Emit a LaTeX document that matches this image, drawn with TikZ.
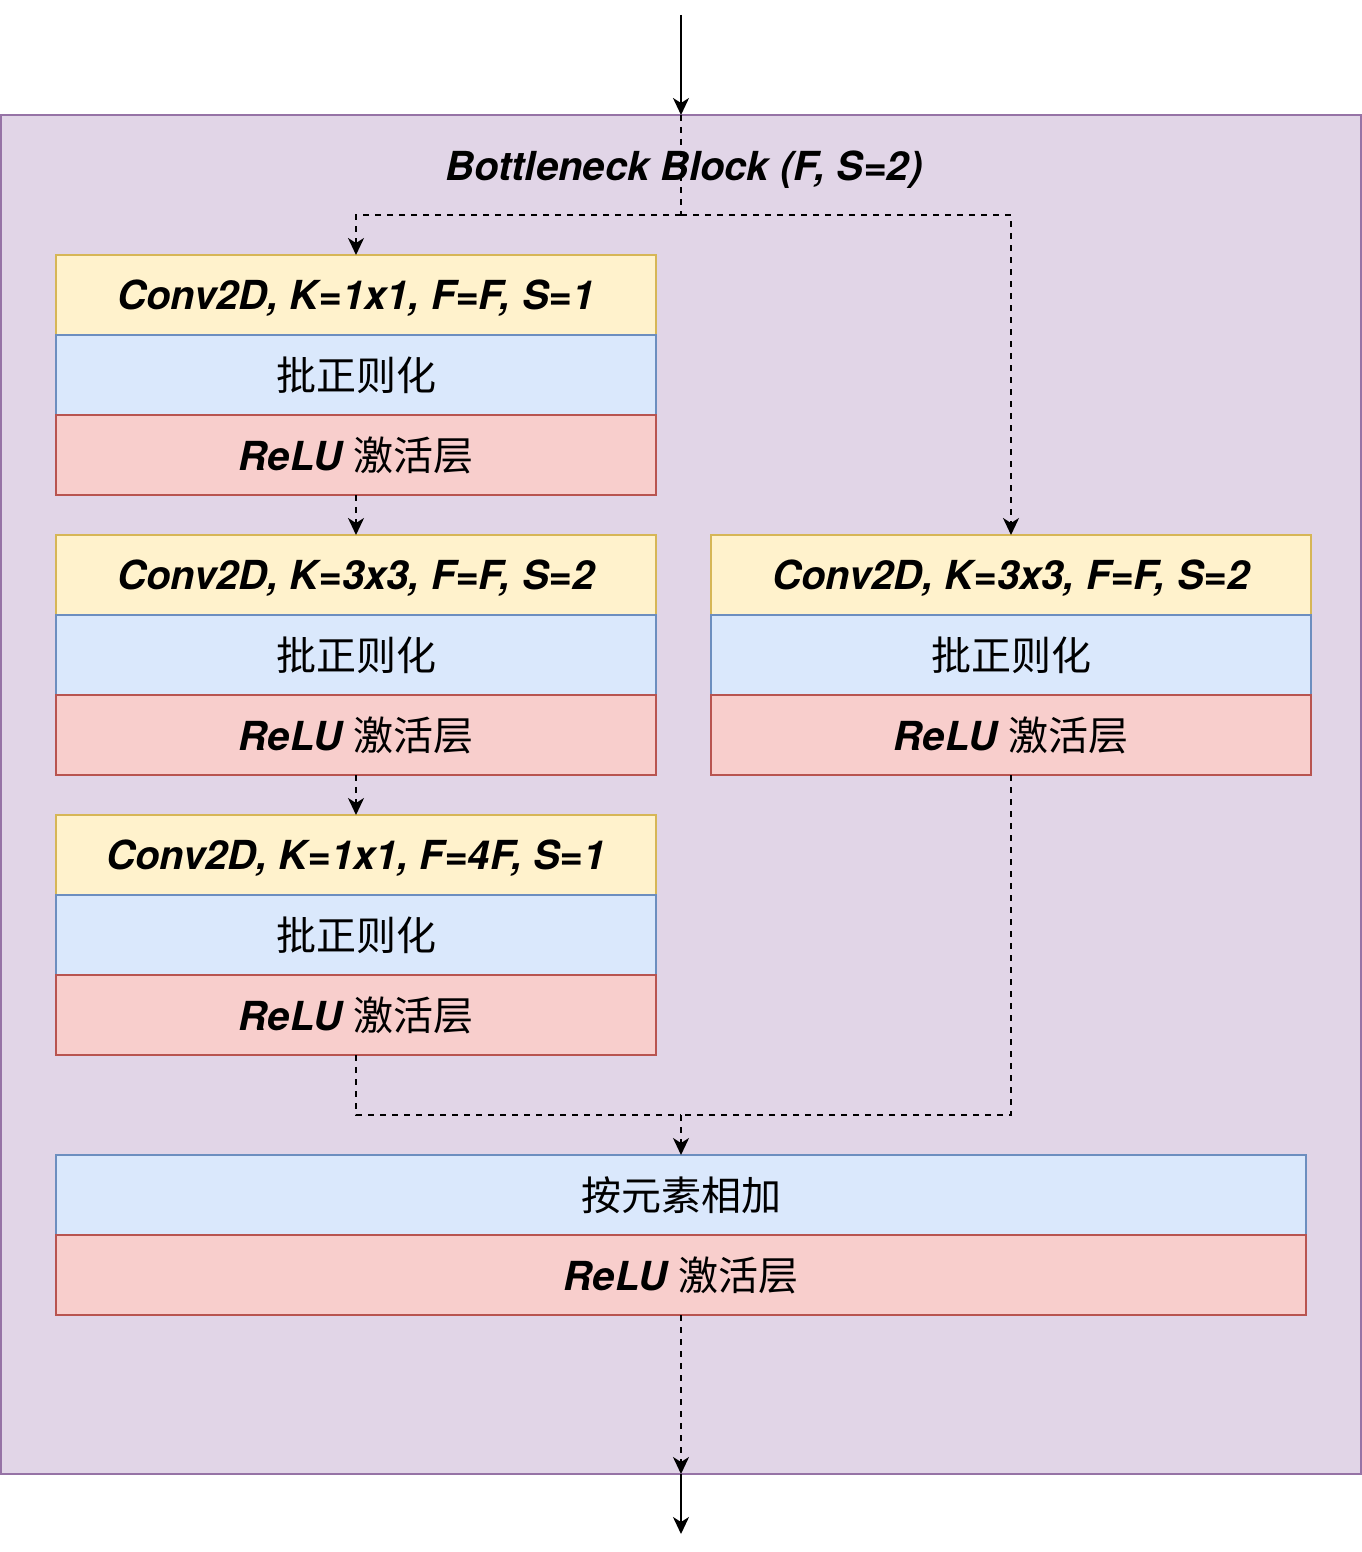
\documentclass[tikz,border=0pt]{standalone}
\usepackage{fontspec}
\setmainfont{TeX Gyre Heros}
\newfontfamily\cjk{Noto Sans CJK SC}
\usetikzlibrary{arrows.meta}
\definecolor{outerfill}{HTML}{E1D5E7}
\definecolor{outerdraw}{HTML}{9673A6}
\definecolor{yfill}{HTML}{FFF2CC}
\definecolor{ydraw}{HTML}{D6B656}
\definecolor{bfill}{HTML}{DAE8FC}
\definecolor{bdraw}{HTML}{6C8EBF}
\definecolor{rfill}{HTML}{F8CECC}
\definecolor{rdraw}{HTML}{B85450}
\tikzset{
  layer/.style={rectangle, line width=2pt, minimum height=80pt, inner sep=0pt, outer sep=0pt,
    font=\fontsize{40}{48}\selectfont, text=black},
  convbox/.style={layer, fill=yfill, draw=ydraw, text height=29pt, text depth=0pt,
    font=\fontsize{40}{48}\selectfont\bfseries\itshape},
  bnbox/.style={layer, fill=bfill, draw=bdraw, font=\fontsize{40}{48}\selectfont\cjk},
  relubox/.style={layer, fill=rfill, draw=rdraw},
  tip/.style={-{Stealth[length=17pt,width=16pt,inset=5pt]}},
  solidarrow/.style={tip, line width=2pt, black},
  dashline/.style={line width=2pt, black, dash pattern=on 6pt off 6pt},
  dasharrow/.style={dashline, tip},
}
\newcommand{\relutext}{{\bfseries\itshape ReLU} {\cjk 激活层}}
\begin{document}
\begin{tikzpicture}[x=1pt,y=-1pt]
\useasboundingbox (0,0) rectangle (1362,1552);
% outer block
\node[rectangle, fill=outerfill, draw=outerdraw, line width=2pt, minimum width=1360pt, minimum height=1359pt, inner sep=0pt, outer sep=0pt] (outer) at (681,794.5) {};
\node[font=\fontsize{40}{48}\selectfont\bfseries\itshape, inner sep=0pt, text height=29pt, text depth=0pt] (title) at (684,166) {Bottleneck Block (F, S=2)};
% left column
\node[convbox, minimum width=600pt] (L1c) at (356,295) {Conv2D, K=1x1, F=F, S=1};
\node[bnbox, minimum width=600pt] (L1b) at (356,375) {批正则化};
\node[relubox, minimum width=600pt] (L1r) at (356,455) {\relutext};
\node[convbox, minimum width=600pt] (L2c) at (356,575) {Conv2D, K=3x3, F=F, S=2};
\node[bnbox, minimum width=600pt] (L2b) at (356,655) {批正则化};
\node[relubox, minimum width=600pt] (L2r) at (356,735) {\relutext};
\node[convbox, minimum width=600pt] (L3c) at (356,855) {Conv2D, K=1x1, F=4F, S=1};
\node[bnbox, minimum width=600pt] (L3b) at (356,935) {批正则化};
\node[relubox, minimum width=600pt] (L3r) at (356,1015) {\relutext};
% right column
\node[convbox, minimum width=600pt] (Rc) at (1011,575) {Conv2D, K=3x3, F=F, S=2};
\node[bnbox, minimum width=600pt] (Rb) at (1011,655) {批正则化};
\node[relubox, minimum width=600pt] (Rr) at (1011,735) {\relutext};
% bottom
\node[bnbox, minimum width=1250pt] (Badd) at (681,1195) {按元素相加};
\node[relubox, minimum width=1250pt] (Brelu) at (681,1275) {\relutext};
% connectors
\coordinate (in) at (681,15);
\coordinate (out) at (681,1534);
\coordinate (split) at (681,215);
\coordinate (join) at (681,1115);
\draw[solidarrow] (in) -- (outer.north);
\draw[dashline] (outer.north) -- (split);
\draw[dasharrow] (split) -| (L1c.north);
\draw[dasharrow] (split) -| (Rc.north);
\draw[dasharrow] (L1r.south) -- (L2c.north);
\draw[dasharrow] (L2r.south) -- (L3c.north);
\draw[dashline] (L3r.south) |- (join);
\draw[dashline] (Rr.south) |- (join);
\draw[dasharrow] (join) -- (Badd.north);
\draw[dasharrow] (Brelu.south) -- (outer.south);
\draw[solidarrow] (outer.south) -- (out);
\end{tikzpicture}
\end{document}
